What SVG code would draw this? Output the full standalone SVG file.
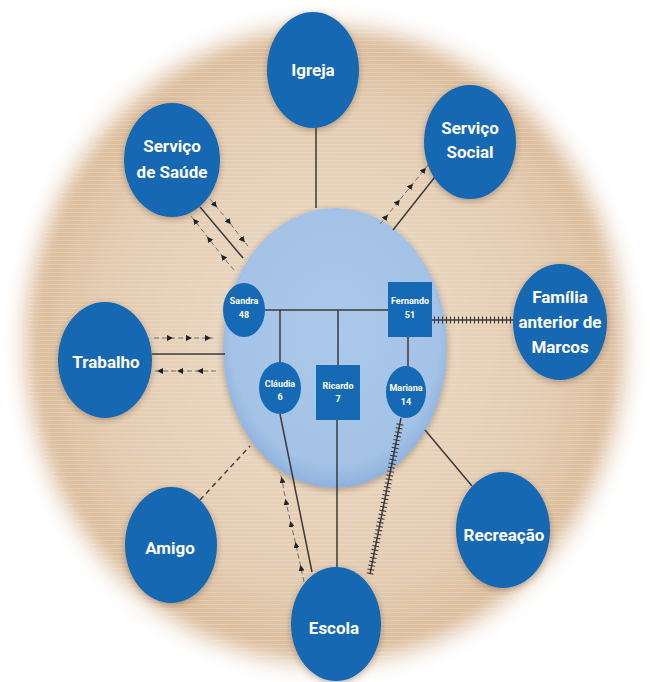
<svg xmlns="http://www.w3.org/2000/svg" width="650" height="682" viewBox="0 0 650 682">
<defs>
<radialGradient id="bg" cx="50%" cy="50%" r="50%">
<stop offset="0" stop-color="#ecdcc8"/>
<stop offset="0.7" stop-color="#e3cbb0"/>
<stop offset="0.9" stop-color="#dcbd9c"/>
<stop offset="1" stop-color="#ffffff" stop-opacity="0"/>
</radialGradient>
<radialGradient id="fam" cx="50%" cy="45%" r="55%">
<stop offset="0" stop-color="#abc9ea"/>
<stop offset="0.85" stop-color="#a3c2e6"/>
<stop offset="1" stop-color="#8fb1dc"/>
</radialGradient>
<filter id="blur" x="-10%" y="-10%" width="120%" height="120%"><feGaussianBlur stdDeviation="6"/></filter>
<filter id="sh" x="-30%" y="-30%" width="160%" height="160%"><feDropShadow dx="0" dy="2" stdDeviation="3" flood-color="#3a2a1a" flood-opacity="0.35"/></filter>
<pattern id="stripes" width="8" height="4" patternUnits="userSpaceOnUse"><rect width="8" height="1" fill="#ffffff" opacity="0.18"/></pattern>
<marker id="ah" viewBox="0 0 10 10" refX="5" refY="5" markerWidth="6" markerHeight="6" markerUnits="userSpaceOnUse" orient="auto"><path d="M0,0 L10,5 L0,10 z" fill="#222"/></marker>
</defs>
<style>
.node{fill:#1268b3;filter:url(#sh)}
.inner{fill:#1569b5}
.lbl{fill:#ffffff;font-family:"Liberation Sans Narrow","Roboto","Liberation Sans",sans-serif;font-weight:bold;font-size:17px;text-anchor:middle}
.sm{fill:#ffffff;font-family:"Liberation Sans Narrow","Roboto","Liberation Sans",sans-serif;font-weight:bold;font-size:9px;text-anchor:middle}
.solid{stroke:#3a3a3a;stroke-width:1.5;fill:none}
.dot{stroke:#555;stroke-width:0.8;stroke-dasharray:5 3;fill:none;marker-mid:url(#ah)}
.dash{stroke:#444;stroke-width:1.5;stroke-dasharray:5 4;fill:none}
.hatch{stroke:#333;stroke-width:7;stroke-dasharray:1 3;fill:none}
</style>
<rect width="650" height="682" fill="#ffffff"/>
<ellipse cx="325" cy="345" rx="322" ry="342" fill="url(#bg)" filter="url(#blur)"/>
<ellipse cx="325" cy="345" rx="300" ry="320" fill="url(#stripes)"/>
<ellipse id="family" cx="335" cy="348" rx="112" ry="140" fill="url(#fam)" filter="url(#sh)"/>
<g id="connectors">
<line class="solid" x1="316" y1="128" x2="316" y2="208"/>
<line class="solid" x1="438" y1="173" x2="393" y2="230"/>
<polyline class="dot" points="380,224 386,217 398,202 411,186 424,170 432,160"/>
<line class="solid" x1="200" y1="207" x2="243" y2="258"/>
<polyline class="dot" points="205,193 215,205 229,222 243,240 248,246"/>
<polyline class="dot" points="234,270 223,257 209,239 195,221 190,215"/>
<polyline class="dot" points="154,338 170,338 189,338 208,338 213,338"/>
<line class="solid" x1="152" y1="354" x2="225" y2="354"/>
<polyline class="dot" points="216,371 200,371 180,371 160,371 154,371"/>
<line class="solid" x1="432" y1="320" x2="514" y2="320"/>
<line class="hatch" x1="434" y1="320" x2="514" y2="320"/>
<line class="solid" x1="265" y1="310" x2="388" y2="310"/>
<line class="solid" x1="280" y1="310" x2="280" y2="363"/>
<line class="solid" x1="338" y1="310" x2="338" y2="365"/>
<line class="solid" x1="408" y1="337" x2="408" y2="367"/>
<line class="solid" x1="280" y1="414" x2="312" y2="572"/>
<line class="solid" x1="337" y1="420" x2="337" y2="568"/>
<line class="solid" x1="401" y1="418" x2="370" y2="574"/>
<line class="hatch" x1="400" y1="424" x2="370" y2="574"/>
<polyline class="dot" points="304,582 301,568 296,545 291,524 286,502 282,480 280,472"/>
<line class="solid" x1="425" y1="430" x2="472" y2="486"/>
<line class="dash" x1="200" y1="500" x2="250" y2="446"/>
</g>
<g id="igreja"><ellipse class="node" cx="313" cy="70" rx="46" ry="58"/><text class="lbl" x="313" y="76">Igreja</text></g>
<g id="servico-social"><ellipse class="node" cx="470" cy="142" rx="46" ry="57"/><text class="lbl" x="470" y="134">Serviço</text><text class="lbl" x="470" y="158">Social</text></g>
<g id="servico-saude"><ellipse class="node" cx="172" cy="160" rx="48" ry="57"/><text class="lbl" x="172" y="152">Serviço</text><text class="lbl" x="172" y="178">de Saúde</text></g>
<g id="familia-anterior"><ellipse class="node" cx="560" cy="322" rx="47" ry="58"/><text class="lbl" x="560" y="303">Família</text><text class="lbl" x="560" y="328">anterior de</text><text class="lbl" x="560" y="353">Marcos</text></g>
<g id="trabalho"><ellipse class="node" cx="105" cy="360" rx="47" ry="58"/><text class="lbl" x="106" y="368">Trabalho</text></g>
<g id="recreacao"><ellipse class="node" cx="503" cy="530" rx="47" ry="58"/><text class="lbl" x="504" y="541">Recreação</text></g>
<g id="amigo"><ellipse class="node" cx="171" cy="545" rx="46" ry="58"/><text class="lbl" x="170" y="554">Amigo</text></g>
<g id="escola"><ellipse class="node" cx="336" cy="624" rx="45" ry="57"/><text class="lbl" x="334" y="634">Escola</text></g>
<g id="sandra"><ellipse class="inner" cx="244" cy="310" rx="21" ry="27"/><text class="sm" x="244" y="304">Sandra</text><text class="sm" x="244" y="318">48</text></g>
<g id="fernando"><rect class="inner" x="388" y="282" width="44" height="55"/><text class="sm" x="410" y="304">Fernando</text><text class="sm" x="410" y="318">51</text></g>
<g id="claudia"><ellipse class="inner" cx="280" cy="388" rx="21" ry="26"/><text class="sm" x="280" y="387">Cláudia</text><text class="sm" x="280" y="400">6</text></g>
<g id="ricardo"><rect class="inner" x="316" y="365" width="44" height="55"/><text class="sm" x="338" y="389">Ricardo</text><text class="sm" x="338" y="402">7</text></g>
<g id="mariana"><ellipse class="inner" cx="406" cy="392" rx="20" ry="26"/><text class="sm" x="406" y="391">Mariana</text><text class="sm" x="406" y="405">14</text></g>
</svg>
